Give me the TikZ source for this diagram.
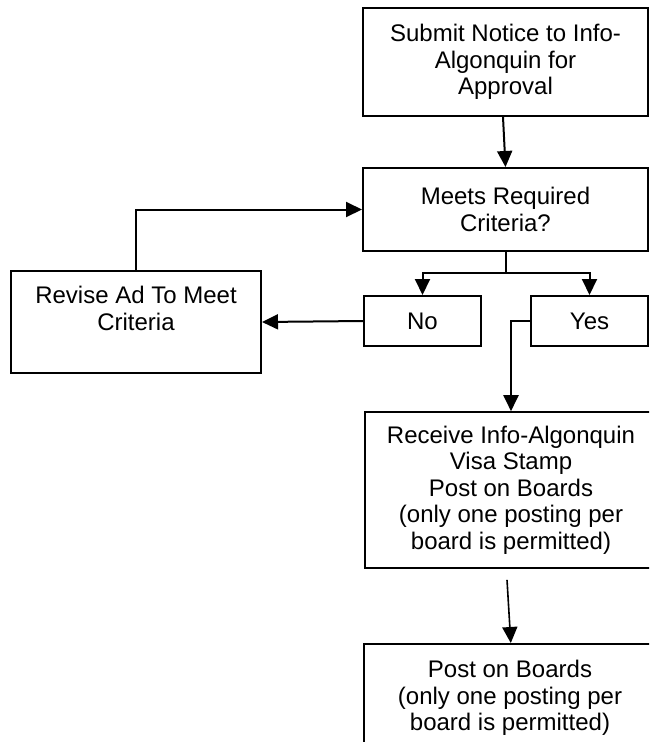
\documentclass[tikz,border=0pt]{standalone}
\usepackage{fontspec}
\setmainfont{Liberation Sans}
\usetikzlibrary{arrows.meta}
\begin{document}
\begin{tikzpicture}[x=1pt,y=-1pt,
  box/.style={draw, line width=2pt, inner sep=0pt, align=center, font=\fontsize{24}{26.5}\selectfont},
  plain/.style={inner sep=0pt, align=center, font=\fontsize{24}{26.5}\selectfont},
  conn/.style={line width=2pt},
  arr/.style={line width=2pt, -{Triangle[length=16pt,width=15pt]}}]
\useasboundingbox (0,0) rectangle (649,742);
\fill[white] (0,0) rectangle (649,742);
\clip (0,0) rectangle (649,742);
\node[box, minimum width=285, minimum height=108] (submit) at (505.5,62) {Submit Notice to Info-\\Algonquin for\\Approval};
\node[box, minimum width=285, minimum height=83] (meets) at (505.5,209.5) {Meets Required\\Criteria?};
\node[box, minimum width=250, minimum height=102] (revise) at (136,322) {};
\node[plain, anchor=north] (revisetext) at (136,286) {Revise Ad To Meet\\Criteria};
\node[box, minimum width=117, minimum height=50] (no) at (422.5,321) {No};
\node[box, minimum width=117, minimum height=50] (yes) at (589.5,321) {Yes};
\node[box, line width=1.6pt, minimum width=292, minimum height=156] (receive) at (511,490) {Receive Info-Algonquin\\Visa Stamp\\Post on Boards\\(only one posting per\\board is permitted)};
\node[box, line width=1.6pt, minimum width=294, minimum height=150, anchor=north west] (post) at (363,643) {};
\node[plain, anchor=north] (posttext) at (510,660) {Post on Boards\\(only one posting per\\board is permitted)};
% connectors
\draw[arr] (submit.south) ++(-2.5,0) -- (meets.north);
\draw[conn] (meets.south) -- ++(0,21) coordinate (split);
\draw[arr] (split) -| (no.north);
\draw[arr] (split) -| (yes.north);
\draw[arr] (revise.north) |- (meets.west);
\draw[arr] (no.west) -- (revise.east);
\draw[arr] (yes.west) -- ++(-19,0) coordinate (yk) -- (yk |- receive.north);
\draw[arr, line width=1.6pt] (receive.south) ++(-4,11) -- (post.north);
\end{tikzpicture}
\end{document}
